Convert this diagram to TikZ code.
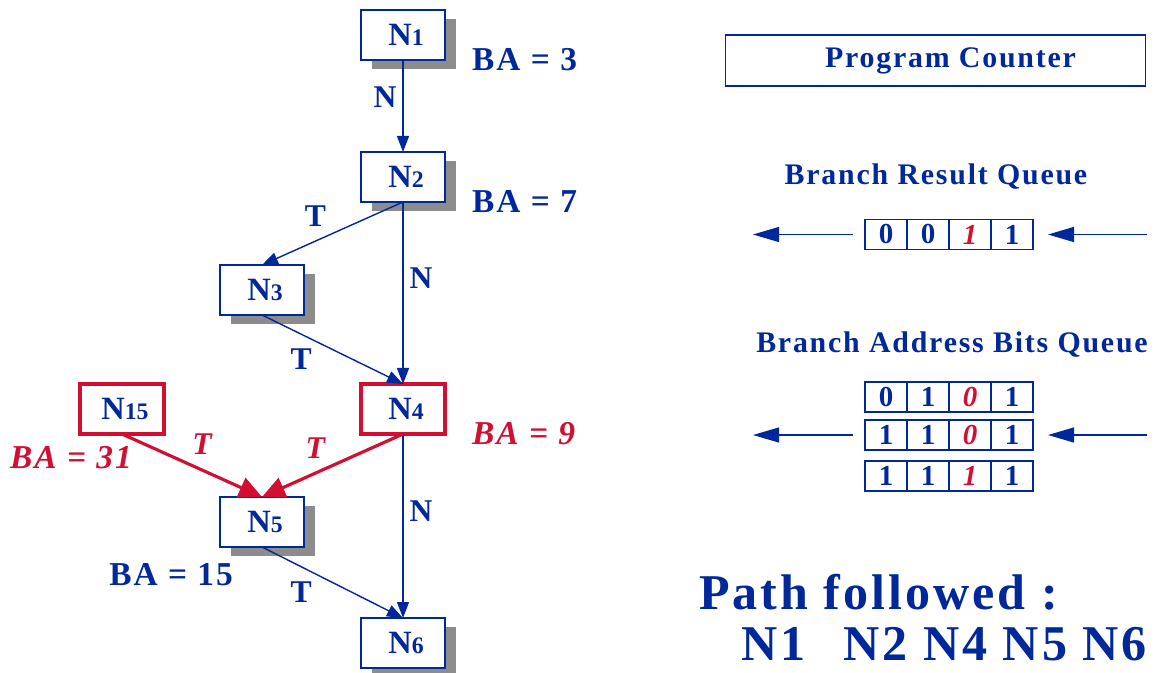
\documentclass[tikz,border=0pt]{standalone}
\usepackage{fontspec}
\setmainfont{Liberation Serif}
\newfontfamily\widefam{Liberation Serif}[LetterSpace=6]
\usetikzlibrary{arrows.meta,positioning,shadows}

\definecolor{nblue}{RGB}{0,40,155}
\definecolor{nred}{RGB}{210,15,50}
\definecolor{shade}{RGB}{140,140,140}

% node name with a small index
\newcommand{\nd}[1]{\hspace*{0.12cm}N{\fontsize{13.5}{13.5}\selectfont #1}}

\tikzset{
  blk/.style={draw=nblue, line width=0.85pt, fill=white, outer sep=0pt,
    minimum width=1.68cm, minimum height=1cm, inner sep=0pt,
    text=nblue, font=\fontsize{18.5}{18.5}\selectfont\bfseries},
  shd/.style={blk, drop shadow={shadow xshift=0.22cm, shadow yshift=-0.18cm,
    fill=shade, opacity=1}},
  hot/.style={blk, draw=nred, line width=1.8pt},
  ba/.style={text=nblue, font=\widefam\bfseries\fontsize{19}{19}\selectfont},
  bared/.style={text=nred, font=\widefam\bfseries\itshape\fontsize{19}{19}\selectfont},
  lbl/.style={text=nblue, font=\fontsize{18}{18}\selectfont\bfseries},
  lblred/.style={text=nred, font=\fontsize{18}{18}\selectfont\bfseries\itshape},
  edge/.style={draw=nblue, line width=0.8pt, -{Triangle[length=0.32cm,width=0.24cm]}},
  edgered/.style={draw=nred, line width=1.8pt, -{Triangle[length=0.46cm,width=0.42cm]}},
  cell/.style={draw=nblue, line width=0.8pt, outer sep=0pt, inner sep=0pt,
    minimum width=0.84cm, minimum height=0.6cm,
    text=nblue, font=\fontsize{16.5}{16.5}\selectfont\bfseries},
  cellred/.style={cell, text=nred, font=\fontsize{16.5}{16.5}\selectfont\bfseries\itshape},
  qarrow/.style={draw=nblue, line width=0.7pt, -{Triangle[length=0.52cm,width=0.3cm]}},
  title/.style={text=nblue, font=\widefam\bfseries\fontsize{17}{17}\selectfont},
  big/.style={text=nblue, font=\widefam\bfseries\fontsize{28.5}{28.5}\selectfont},
}

\begin{document}
\begin{tikzpicture}
\useasboundingbox (0,0) rectangle (23.3,-13.46);

% control flow graph
\node[shd] (N1) at (8.06,-0.7) {\nd{1}};
\node[shd, below=1.84cm of N1] (N2) {\nd{2}};
\node[hot, below=3.64cm of N2] (N4) {\nd{4}};
\node[shd, below=3.68cm of N4] (N6) {\nd{6}};
\node[shd, below left=1.26cm and 1.14cm of N2] (N3) {\nd{3}};
\node[shd, below left=1.26cm and 1.14cm of N4] (N5) {\nd{5}};
\node[hot, left=3.94cm of N4] (N15) {\nd{15}};

\node[ba, right=0.42cm of N1.south east] (ba1) {BA = 3};
\node[ba, right=0.42cm of N2.south east] (ba2) {BA = 7};
\node[bared, right=0.42cm of N4.south east] (ba4) {BA = 9};
\node[bared, anchor=east] (ba15) at (2.76,-9.16) {BA = 31};
\node[ba, anchor=east] (ba5) at (4.78,-11.5) {BA = 15};

\draw[edge] (N1.south) -- node[lbl, left, pos=0.4] {N} (N2.north);
\draw[edge] (N2.south) -- node[lbl, above left, pos=0.5] {T} (N3.north);
\draw[edge] (N2.south) -- node[lbl, right, pos=0.42] {N} (N4.north);
\draw[edge] (N3.south) -- node[lbl, below left, pos=0.4] {T} (N4.north);
\draw[edge] (N4.south) -- node[lbl, right, pos=0.42] {N} (N6.north);
\draw[edge] (N5.south) -- node[lbl, below left, pos=0.4] {T} (N6.north);
\draw[edgered] (N15.south) -- node[lblred, above right, pos=0.45] {T} (N5.north);
\draw[edgered] (N4.south) -- node[lblred, above left, pos=0.5] {T} (N5.north);

% program counter and queues
\node[draw=nblue, line width=0.85pt, minimum width=8.4cm, minimum height=1.02cm,
  title] (pc) at (18.71,-1.21) {\hspace*{0.6cm}Program Counter};
\node[title] (brq) at (18.72,-3.54) {Branch Result Queue};
\node[title] (babq) at (19.04,-6.9) {Branch Address Bits Queue};

\foreach \row/\yy/\a/\b/\c in {r/-4.69/0/0/1, b1/-7.94/0/1/0, b2/-8.7/1/1/0, b3/-9.52/1/1/1} {
  \node[cell] (\row-1) at (17.72,\yy) {\a};
  \node[cell, right=0pt of \row-1] (\row-2) {\b};
  \node[cellred, right=0pt of \row-2] (\row-3) {\c};
  \node[cell, right=0pt of \row-3] (\row-4) {1};
}

\coordinate (r-in) at (22.94,-4.69);
\coordinate (r-out) at (15.06,-4.69);
\coordinate (b-in) at (22.94,-8.7);
\coordinate (b-out) at (15.06,-8.7);
\draw[qarrow, shorten >=0.3cm] (r-in) -- (r-4.east);
\draw[qarrow, shorten <=0.24cm] (r-1.west) -- (r-out);
\draw[qarrow, shorten >=0.3cm] (b-in) -- (b2-4.east);
\draw[qarrow, shorten <=0.24cm] (b2-1.west) -- (b-out);

% result
\node[big, anchor=base west] (path) at (13.86,-12.18) {Path followed :};
\node[big, anchor=base west] (seq) at (14.7,-13.2) {N1\hspace{0.45em} N2 N4 N5 N6};
\end{tikzpicture}
\end{document}
